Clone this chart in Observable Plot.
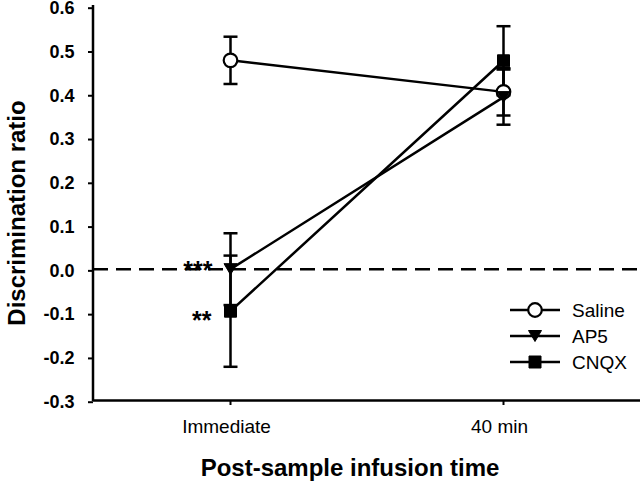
<!DOCTYPE html>
<html><head><meta charset="utf-8">
<script src="https://cdn.jsdelivr.net/npm/d3@7"></script>
<script src="https://cdn.jsdelivr.net/npm/@observablehq/plot@0.6"></script>
<style>body{margin:0;background:#fff;} #chart{width:640px;height:483px;}</style>
</head><body><div id="chart"></div>
<script>
// ---- data ----
const times = ["Immediate", "40 min"];
const groups = ["Saline", "AP5", "CNQX"];
const salineMean = [0.477, 0.405];
const salineSem = [0.054, 0.054];
const ap5Mean = [0.0, 0.393];
const ap5Sem = [0.082, 0.063];
const cnqxMean = [-0.096, 0.476];
const cnqxSem = [0.127, 0.079];
const yTicks = [-0.3, -0.2, -0.1, 0, 0.1, 0.2, 0.3, 0.4, 0.5, 0.6];
const starGroups = ["AP5", "CNQX"];
const starLabels = ["***", "**"];
const xTitle = "Post-sample infusion time";
const yTitle = "Discrimination ratio";

// ---- build table ----
const means = {Saline: salineMean, AP5: ap5Mean, CNQX: cnqxMean};
const sems = {Saline: salineSem, AP5: ap5Sem, CNQX: cnqxSem};
const rows = groups.flatMap(g => times.map((t, i) => ({
  group: g, time: t, mean: means[g][i],
  lo: means[g][i] - sems[g][i], hi: means[g][i] + sems[g][i]
})));
const starRows = starGroups.map((g, i) => ({group: g, label: starLabels[i], time: times[0], mean: means[g][0]}));

// ---- symbols ----
const capSym = {draw(ctx) { ctx.moveTo(-7, 0); ctx.lineTo(7, 0); }};
const squareSym = {draw(ctx) { ctx.rect(-6, -6, 12, 12); }};
const triSym = {draw(ctx) { ctx.moveTo(-6.5, -5.5); ctx.lineTo(6.5, -5.5); ctx.lineTo(0, 5.5); ctx.closePath(); }};
const circleSym = {draw(ctx) { ctx.moveTo(6.8, 0); ctx.arc(0, 0, 6.8, 0, 2 * Math.PI); }};
const symbolOf = {Saline: circleSym, AP5: triSym, CNQX: squareSym};
const fillOf = {Saline: "white", AP5: "black", CNQX: "black"};
const swOf = {Saline: 2.2, AP5: 1, CNQX: 1};

const font = "'Liberation Sans', Arial, Helvetica, sans-serif";
const LW = 2.5;

const plot = Plot.plot({
  width: 640, height: 483,
  marginLeft: 93, marginRight: 0, marginTop: 6, marginBottom: 83,
  style: {fontFamily: font, background: "white", color: "black", overflow: "visible"},
  x: {type: "point", domain: times, padding: 0.5},
  y: {domain: [-0.3, 0.6]},
  marks: [
    Plot.axisY({ticks: yTicks, tickSize: 5, tickPadding: 14, strokeWidth: 2,
      tickFormat: d => d.toFixed(1), fontSize: 18, fontWeight: "bold", dy: 1.7, label: null}),
    Plot.axisX({tickSize: 5, strokeWidth: 2, fill: "none", label: null}),
    Plot.axisX({tickSize: 5, tickPadding: 14, stroke: "none", fontSize: 19, dx: -4, label: null}),
    Plot.ruleY([-0.3], {stroke: "black", strokeWidth: LW}),
    Plot.ruleY([0], {stroke: "black", strokeWidth: LW, strokeDasharray: "15,8"}),
    Plot.ruleX(rows, {x: "time", y1: "lo", y2: "hi", stroke: "black", strokeWidth: LW}),
    Plot.dot(rows, {x: "time", y: "lo", symbol: capSym, r: 7, fill: "none", stroke: "black", strokeWidth: LW}),
    Plot.dot(rows, {x: "time", y: "hi", symbol: capSym, r: 7, fill: "none", stroke: "black", strokeWidth: LW}),
    Plot.line(rows, {x: "time", y: "mean", z: "group", stroke: "black", strokeWidth: LW}),
    ...groups.map(g => Plot.dot(rows.filter(d => d.group === g), {
      x: "time", y: "mean", symbol: symbolOf[g], r: 7,
      fill: fillOf[g], stroke: "black", strokeWidth: swOf[g]
    })),
    Plot.text(starRows.filter(d => d.group === "AP5"), {x: "time", y: "mean", text: "label",
      textAnchor: "end", dx: -18, dy: 1.5, fontSize: 25, fontWeight: "bold"}),
    Plot.text(starRows.filter(d => d.group === "CNQX"), {x: "time", y: "mean", text: "label",
      textAnchor: "end", dx: -19, dy: 9.5, fontSize: 25, fontWeight: "bold"})
  ]
});

const svg = d3.select(plot);
// left axis line
svg.append("line").attr("x1", 93).attr("x2", 93).attr("y1", 5).attr("y2", 401)
  .attr("stroke", "black").attr("stroke-width", LW);
// axis titles
svg.append("text").attr("transform", "translate(25,213) rotate(-90)")
  .attr("text-anchor", "middle").attr("font-size", 24).attr("font-weight", "bold")
  .attr("font-family", font).attr("fill", "black").text(yTitle);
svg.append("text").attr("x", 350).attr("y", 476)
  .attr("text-anchor", "middle").attr("font-size", 24).attr("font-weight", "bold")
  .attr("font-family", font).attr("fill", "black").text(xTitle);
// legend
const lg = svg.append("g").attr("font-family", font).attr("font-size", 19);
groups.forEach((g, i) => {
  const cy = 310 + i * 26;
  lg.append("line").attr("x1", 510).attr("x2", 560).attr("y1", cy).attr("y2", cy)
    .attr("stroke", "black").attr("stroke-width", LW);
  lg.append("path").attr("d", d3.symbol(symbolOf[g])())
    .attr("transform", `translate(535,${cy})`)
    .attr("fill", fillOf[g]).attr("stroke", "black").attr("stroke-width", swOf[g]);
  lg.append("text").attr("x", 572).attr("y", cy).attr("dy", "0.35em")
    .attr("text-anchor", "start").attr("fill", "black").text(g);
});

document.getElementById("chart").appendChild(plot);
</script>
</body></html>
